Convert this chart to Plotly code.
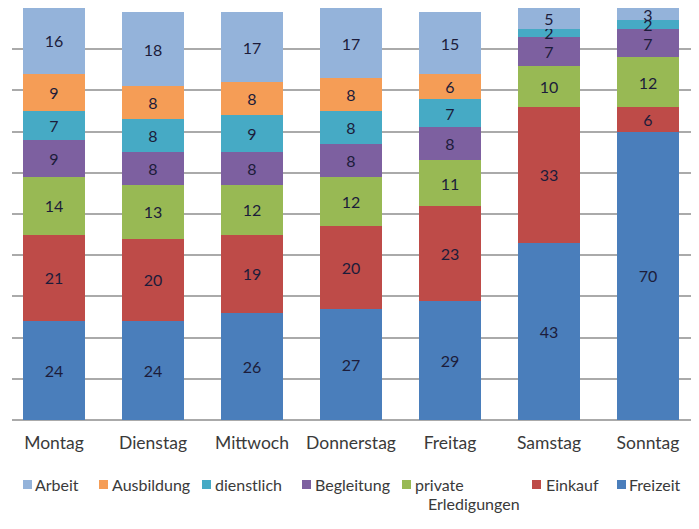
import plotly.graph_objects as go

days = ["Montag", "Dienstag", "Mittwoch", "Donnerstag", "Freitag", "Samstag", "Sonntag"]

freizeit = [24, 24, 26, 27, 29, 43, 70]
einkauf = [21, 20, 19, 20, 23, 33, 6]
private = [14, 13, 12, 12, 11, 10, 12]
begleitung = [9, 8, 8, 8, 8, 7, 7]
dienstlich = [7, 8, 9, 8, 7, 2, 2]
ausbildung = [9, 8, 8, 8, 6, 0, 0]
arbeit = [16, 18, 17, 17, 15, 5, 3]

series_names = ["Freizeit", "Einkauf", "private Erledigungen", "Begleitung",
                "dienstlich", "Ausbildung", "Arbeit"]
series_values = [freizeit, einkauf, private, begleitung, dienstlich, ausbildung, arbeit]
series_colors = ["#4A7EBB", "#BE4B48", "#98B954", "#7D60A0", "#46AAC5", "#F59D56", "#94B3DA"]

FONT = "Lato"
W, H = 699, 529
OFF = 8                      # page body margin of the browser
# plot area in screen pixels: x 12..693, y 8..420
L = 12 - OFF
T = 8 - OFF
R = W - (693 - OFF)
B = H - (420 - OFF)
PW, PH = W - L - R, H - T - B
CAT_PX = 99.0
FIRST_CENTER_PX = 54.0


def px_x(px):
    return (px - OFF - L) / PW


def px_y(py):
    return (H - B - (py - OFF)) / PH


fig = go.Figure()
for name, vals, color in zip(series_names, series_values, series_colors):
    fig.add_trace(go.Bar(
        x=days, y=vals, name=name,
        marker=dict(color=color, line=dict(width=0)),
        text=[str(v) if v else "" for v in vals],
        textposition="inside",
        insidetextanchor="middle",
        constraintext="none",
        textangle=0,
        textfont=dict(family=FONT, size=16, color="#1c1c3a"),
        hoverinfo="skip",
        showlegend=False,
    ))

legend_order = ["Arbeit", "Ausbildung", "dienstlich", "Begleitung",
                "private Erledigungen", "Einkauf", "Freizeit"]
legend_marker_px = [23, 99, 202, 302, 402, 532, 617]
legend_text_px = [33, 110, 213, 313, 413, 544, 627]
shapes = []
annotations = []
for name, mx, tx in zip(legend_order, legend_marker_px, legend_text_px):
    color = series_colors[series_names.index(name)]
    shapes.append(dict(type="rect", xref="paper", yref="paper",
                       x0=px_x(mx), x1=px_x(mx + 9), y0=px_y(489), y1=px_y(480),
                       fillcolor=color, line=dict(width=0)))
    lines = ["private", "Erledigungen"] if name == "private Erledigungen" else [name]
    for i, line in enumerate(lines):
        annotations.append(dict(
            text=line, xref="paper", yref="paper",
            x=px_x(tx + (13 if i == 1 else 0)), y=px_y(484 + 20 * i),
            xanchor="left", yanchor="middle", showarrow=False,
            font=dict(family=FONT, size=16, color="#3a3a3a"),
        ))

fig.update_layout(
    barmode="stack",
    bargap=0.37,
    width=W, height=H,
    margin=dict(l=L, r=R, t=T, b=B, autoexpand=False),
    plot_bgcolor="white",
    paper_bgcolor="white",
    font=dict(family=FONT, color="#3a3a3a"),
    showlegend=False,
    shapes=shapes,
    annotations=annotations,
)
x0 = -(FIRST_CENTER_PX - 12) / CAT_PX
fig.update_xaxes(
    range=[x0, x0 + PW / CAT_PX],
    showgrid=False,
    tickfont=dict(family=FONT, size=17.5, color="#3a3a3a"),
    ticks="",
    showline=False,
    automargin=False,
    ticklabelstandoff=10,
)
fig.update_yaxes(
    range=[0, 100],
    dtick=10,
    showticklabels=False,
    showgrid=True,
    gridcolor="#aaaaaa",
    gridwidth=1.5,
    zeroline=True,
    zerolinecolor="#aaaaaa",
    zerolinewidth=1.5,
    ticks="",
    automargin=False,
)

fig.write_html("out.html")
